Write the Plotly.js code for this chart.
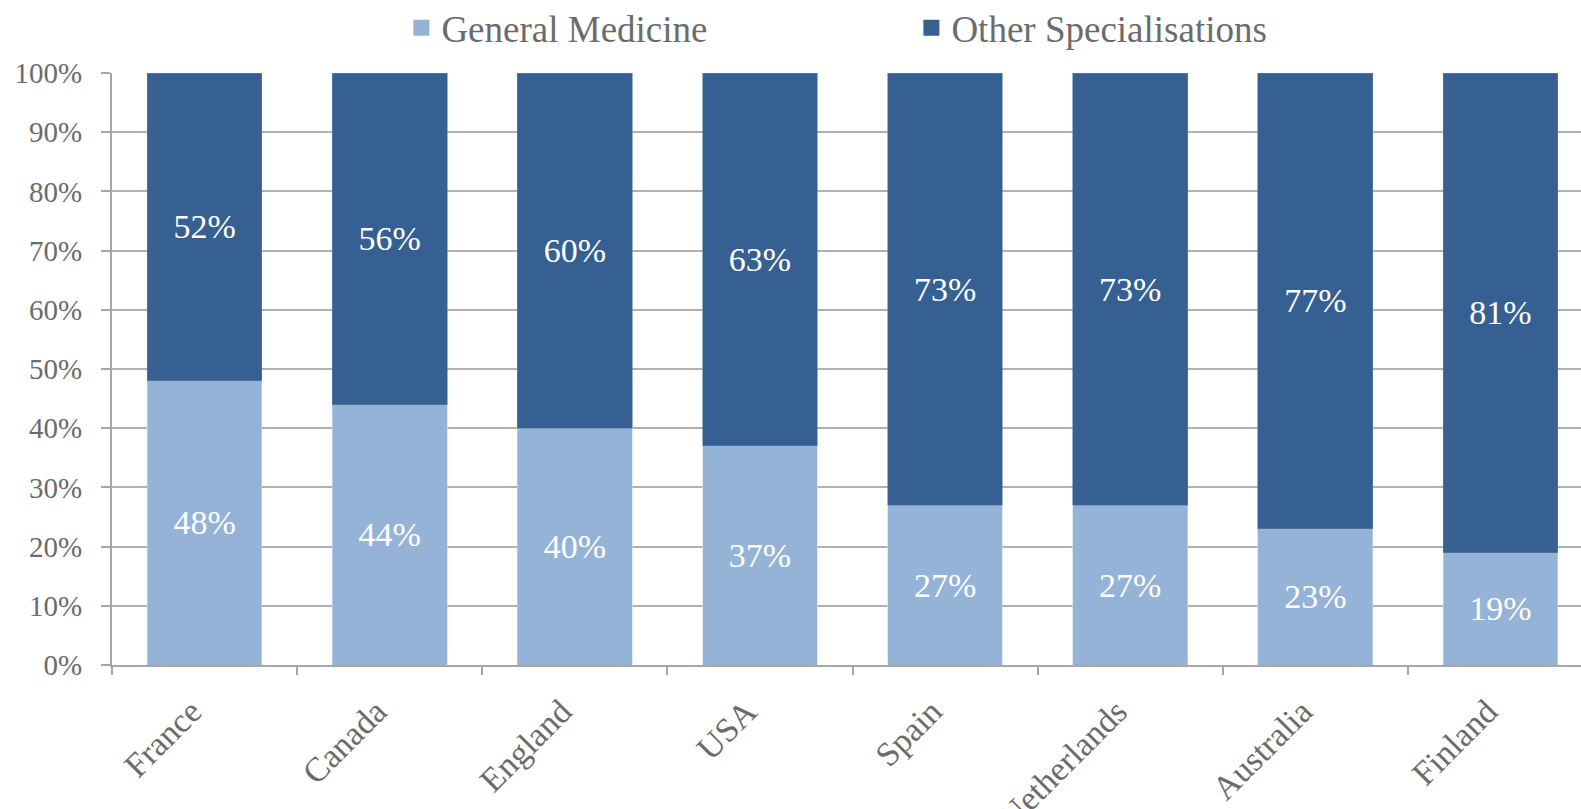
<!DOCTYPE html>
<html>
<head>
<meta charset="utf-8">
<script src="https://cdn.plot.ly/plotly-3.0.1.min.js"></script>
<style>html,body{margin:0;padding:0;background:#fff;}#chart{width:1581px;height:809px;}</style>
</head>
<body>
<div id="chart"></div>
<script>
const countries = ["France", "Canada", "England", "USA", "Spain", "Netherlands", "Australia", "Finland"];
const generalMedicine = [48, 44, 40, 37, 27, 27, 23, 19];
const otherSpecialisations = [52, 56, 60, 63, 73, 73, 77, 81];
const yTickVals = [0, 10, 20, 30, 40, 50, 60, 70, 80, 90, 100];
const yTickText = ["0%", "10%", "20%", "30%", "40%", "50%", "60%", "70%", "80%", "90%", "100%"];
const seriesNames = ["General Medicine", "Other Specialisations"];
const seriesColors = ["#95b3d7", "#366092"];

const serif = "Liberation Serif, Times New Roman, serif";
const labelFont = {family: serif, size: 34, color: "#ffffff"};
const pct = v => v + "%";

const traces = [
  {
    type: "bar", name: seriesNames[0], x: countries, y: generalMedicine, showlegend: false,
    marker: {color: seriesColors[0], line: {color: "#c9d9ec", width: 0.6}},
    text: generalMedicine.map(pct), texttemplate: "%{text}",
    textposition: "inside", insidetextanchor: "middle",
    textangle: 0, textfont: labelFont, constraintext: "none", hoverinfo: "skip"
  },
  {
    type: "bar", name: seriesNames[1], x: countries, y: otherSpecialisations, showlegend: false,
    marker: {color: seriesColors[1], line: {color: "#5b7fab", width: 0.6}},
    text: otherSpecialisations.map(pct), texttemplate: "%{text}",
    textposition: "inside", insidetextanchor: "middle",
    textangle: 0, textfont: labelFont, constraintext: "none", hoverinfo: "skip"
  },
  // legend-only entries (square swatches)
  {type: "scatter", mode: "markers", name: seriesNames[0], x: [null], y: [null],
   marker: {symbol: "square", size: 16, color: seriesColors[0]}, hoverinfo: "skip"},
  {type: "scatter", mode: "markers", name: seriesNames[1], x: [null], y: [null],
   marker: {symbol: "square", size: 16, color: seriesColors[1]}, hoverinfo: "skip"}
];

const layout = {
  width: 1581, height: 809, autosize: false,
  margin: {l: 112, r: 0, t: 72.5, b: 144, pad: 0},
  paper_bgcolor: "#ffffff", plot_bgcolor: "#ffffff",
  barmode: "stack", bargap: 0.38,
  showlegend: true,
  legend: {
    orientation: "h", traceorder: "normal",
    x: 0.197, xanchor: "left", yref: "container", y: 0.965, yanchor: "middle",
    font: {family: serif, size: 37, color: "#6b6b6b"},
    entrywidth: 465, entrywidthmode: "pixels", itemwidth: 30
  },
  xaxis: {
    type: "category", range: [-0.5, 7.435],
    tickson: "boundaries", ticks: "outside", ticklen: 8, tickwidth: 2, tickcolor: "#a6a6a6",
    showline: true, linecolor: "#a6a6a6", linewidth: 2,
    showgrid: false, tickangle: -45, ticklabelstandoff: 11, ticklabelshift: -13,
    tickfont: {family: serif, size: 34, color: "#6b6b6b"}
  },
  yaxis: {
    range: [0, 100], tickvals: yTickVals, ticktext: yTickText,
    ticks: "outside", ticklen: 9, tickwidth: 2, tickcolor: "#a6a6a6",
    showline: true, linecolor: "#a6a6a6", linewidth: 2,
    showgrid: true, gridcolor: "#b0b0b0", gridwidth: 2, zeroline: false,
    ticklabelstandoff: 13,
    tickfont: {family: serif, size: 29, color: "#6b6b6b"}
  }
};

Plotly.newPlot("chart", traces, layout, {displayModeBar: false, staticPlot: true});
</script>
</body>
</html>
